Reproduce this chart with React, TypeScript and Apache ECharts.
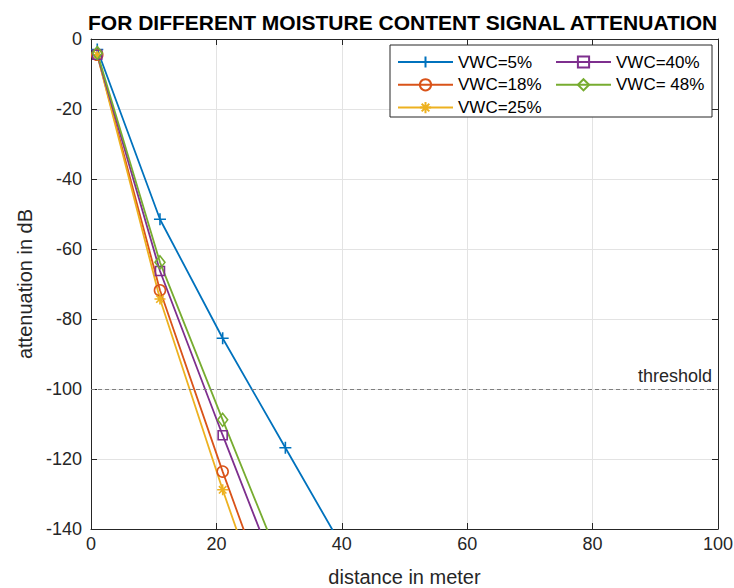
import React, { useEffect, useRef } from "react";
import * as echarts from "echarts";

const titleText = "FOR DIFFERENT MOISTURE CONTENT SIGNAL ATTENUATION";
const xName = "distance in meter";
const yName = "attenuation in dB";
const seriesNames = ["VWC=5%", "VWC=18%", "VWC=25%", "VWC=40%", "VWC= 48%"];
const seriesColors = ["#0072BD", "#D95319", "#EDB120", "#7E2F8E", "#77AC30"];
const distances = [1, 11, 21, 31, 41];
const vwc5 = [-3, -51.5, -85.5, -116.8, -148];
const vwc18 = [-4.5, -71.8, -123.6, -173];
const vwc25 = [-4.5, -74.3, -128.8, -180];
const vwc40 = [-4.5, -66.3, -113.2, -159];
const vwc48 = [-4, -63.8, -108.8, -153];
const thresholdValue = -100;
const thresholdLabel = "threshold";

const symbols = [
  "path://M5,0L5,10M0,5L10,5",
  "circle",
  "path://M5,0L5,10M0,5L10,5M1.6,1.6L8.4,8.4M1.6,8.4L8.4,1.6",
  "rect",
  "diamond",
];
const symbolSizes = [12, 11, 11, 9, [10, 13]];

const FONT = "'Liberation Sans', Arial, sans-serif";
const AX = "#262626";

export default function App() {
  const ref = useRef<HTMLDivElement>(null);
  useEffect(() => {
    if (!ref.current) return;
    const chart = echarts.init(ref.current, undefined, { renderer: "svg" });
    const values = [vwc5, vwc18, vwc25, vwc40, vwc48];
    const series: any[] = values.map((vals, i) => {
      const s: any = {
        name: seriesNames[i],
        type: "line",
        data: vals.map((v, j) => [distances[j], v]),
        symbol: symbols[i],
        symbolSize: symbolSizes[i],
        showAllSymbol: true,
        clip: true,
        z: 2,
        lineStyle: { color: seriesColors[i], width: 1.8 },
        itemStyle: { color: "rgba(255,255,255,0)", borderColor: seriesColors[i], borderWidth: 1.6 },
        emphasis: { disabled: true },
      };
      if (i === 0) {
        s.markLine = {
          silent: true,
          symbol: "none",
          animation: false,
          lineStyle: { color: "#7f7f7f", type: [4, 3], width: 1 },
          label: {
            show: true,
            position: "insideEndTop",
            formatter: thresholdLabel,
            color: AX,
            fontSize: 18,
            fontFamily: FONT,
            distance: [6, 4],
          },
          data: [{ yAxis: thresholdValue }],
        };
      }
      return s;
    });
    const legendCommon = {
      orient: "vertical",
      top: 53.5,
      padding: 0,
      itemWidth: 55,
      itemHeight: 14,
      itemGap: 5.8,
      itemStyle: { color: "rgba(255,255,255,0)" },
      textStyle: { fontSize: 17, lineHeight: 14, color: "#000", fontFamily: FONT },
      z: 5,
      selectedMode: false,
    };
    chart.setOption({
      animation: false,
      backgroundColor: "#fff",
      title: {
        text: titleText,
        left: 88,
        top: 12,
        padding: 0,
        textStyle: { fontSize: 21, fontWeight: "bold", color: "#000", fontFamily: FONT },
      },
      grid: { left: 91, right: 16, top: 39, bottom: 59, containLabel: false, outerBoundsMode: "none" },
      legend: [
        { ...legendCommon, left: 397, data: [seriesNames[0], seriesNames[1], seriesNames[2]] },
        { ...legendCommon, left: 555, data: [seriesNames[3], seriesNames[4]] },
      ],
      graphic: [
        {
          type: "rect",
          z: 4,
          shape: { x: 390, y: 45, width: 322, height: 72 },
          style: { fill: "#fff", stroke: AX, lineWidth: 1 },
        },
      ],
      xAxis: [
        {
          type: "value",
          min: 0,
          max: 100,
          interval: 20,
          name: xName,
          nameLocation: "middle",
          nameGap: 38,
          nameTextStyle: { fontSize: 20, color: AX, fontFamily: FONT },
          axisLine: { show: true, onZero: false, lineStyle: { color: AX, width: 1 } },
          axisTick: { show: true, inside: true, length: 6, lineStyle: { color: AX } },
          axisLabel: { fontSize: 18, color: AX, margin: 6, fontFamily: FONT },
          splitLine: { show: true, lineStyle: { color: "#e3e3e3", width: 1 } },
        },
        {
          type: "value",
          position: "top",
          min: 0,
          max: 100,
          interval: 20,
          axisLine: { show: true, onZero: false, lineStyle: { color: AX, width: 1 } },
          axisTick: { show: true, inside: true, length: 6, lineStyle: { color: AX } },
          axisLabel: { show: false },
          splitLine: { show: false },
        },
      ],
      yAxis: [
        {
          type: "value",
          min: -140,
          max: 0,
          interval: 20,
          name: yName,
          nameLocation: "middle",
          nameGap: 53,
          nameTextStyle: { fontSize: 20, color: AX, fontFamily: FONT },
          axisLine: { show: true, onZero: false, lineStyle: { color: AX, width: 1 } },
          axisTick: { show: true, inside: true, length: 6, lineStyle: { color: AX } },
          axisLabel: { fontSize: 18, color: AX, margin: 9, fontFamily: FONT },
          splitLine: { show: true, lineStyle: { color: "#e3e3e3", width: 1 } },
        },
        {
          type: "value",
          position: "right",
          min: -140,
          max: 0,
          interval: 20,
          axisLine: { show: true, onZero: false, lineStyle: { color: AX, width: 1 } },
          axisTick: { show: true, inside: true, length: 6, lineStyle: { color: AX } },
          axisLabel: { show: false },
          splitLine: { show: false },
        },
      ],
      series,
    });
    return () => chart.dispose();
  }, []);
  return (
    <div
      ref={ref}
      style={{ position: "fixed", left: 0, top: 0, width: 734, height: 588 }}
    />
  );
}
